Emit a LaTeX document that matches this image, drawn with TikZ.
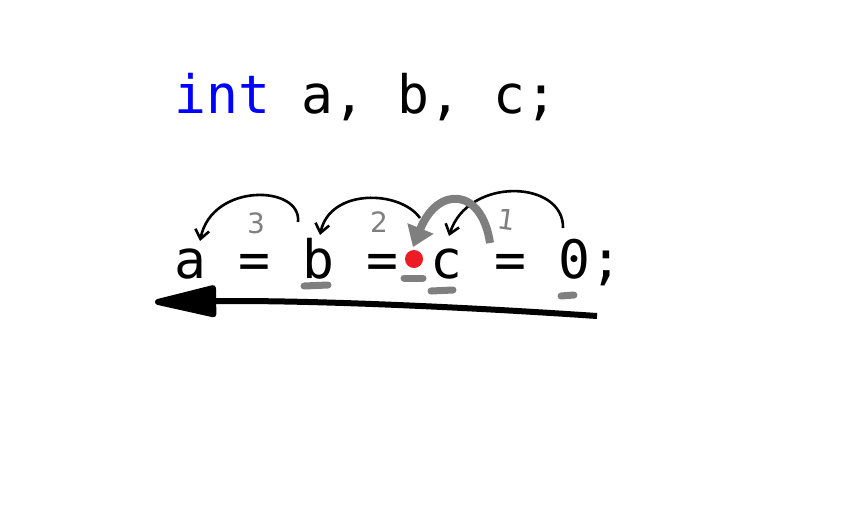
\documentclass[tikz,border=0pt]{standalone}
\usepackage{fontspec}
\setmonofont{DejaVu Sans Mono}
\newfontfamily\numfont{DejaVu Sans}
\usetikzlibrary{arrows.meta}
\definecolor{kwblue}{RGB}{0,0,255}
\definecolor{pgray}{RGB}{127,127,127}
\definecolor{pred}{RGB}{237,28,36}
\tikzset{
  code/.style={anchor=base west,inner sep=0pt,font=\ttfamily\fontsize{53}{60}\selectfont},
  num/.style={inner sep=0pt,text=pgray,font=\numfont\fontsize{28}{30}\selectfont},
  thinarc/.style={line width=2.6pt,-{Straight Barb[length=9pt,width=14pt,line width=2.6pt]}},
  grayarc/.style={line width=8pt,pgray,-{Triangle[length=20pt,width=27pt]}},
  bigarrow/.style={line width=6pt,-{Triangle[length=72pt,width=32pt,round]}},
  underdash/.style={line width=7pt,pgray,line cap=round}
}
\begin{document}
\begin{tikzpicture}[x=1pt,y=-1pt]
\useasboundingbox (0,0) rectangle (864,512);
\node[code] (decl) at (174,113) {\textcolor{kwblue}{int} a, b, c;};
% assignment line, one node per token (cell width 32)
\node[code] (ta)  at (174,278) {a};
\node[code] (te1) at (238,278) {=};
\node[code] (tb)  at (302,278) {b};
\node[code] (te2) at (366,278) {=};
\node[code] (tc)  at (430,278) {c};
\node[code] (te3) at (494,278) {=};
\node[code] (t0)  at (558,278) {0};
\node[code] (tsc) at (590,278) {;};
% step numbers
\node[num] (n3) at (256,223) {3};
\node[num] (n2) at (379,222) {2};
\node[num,rotate=-8] (n1) at (507,220) {1};
% thin black arcs
\coordinate (zeroTop) at (563,228);
\coordinate (cTop) at (449,236);
\coordinate (cLeft) at (420,218);
\coordinate (bTop) at (320,235);
\coordinate (bRight) at (298,222);
\coordinate (aTop) at (200,241);
\draw[thinarc] (zeroTop) .. controls (564,180) and (468,176) .. (cTop);
\draw[thinarc] (cLeft) .. controls (400,190) and (330,188) .. (bTop);
\draw[thinarc] (bRight) .. controls (302,185) and (212,182) .. (aTop);
% gray thick arrow
\coordinate (gStart) at (490,243);
\coordinate (gEnd) at (413,247);
\draw[grayarc] (gStart) .. controls (482,188) and (438,185) .. (gEnd);
% red dot
\fill[pred] (414,259) circle (9);
% gray underline dashes
\draw[underdash] (304,286) -- (328,285);
\draw[underdash] (404,278) -- (423,278);
\draw[underdash] (431,291) -- (453,290);
\draw[underdash] (561,296) -- (574,295);
% big black arrow
\coordinate (bigStart) at (597,316);
\coordinate (bigEnd) at (155,302);
\draw[bigarrow] (bigStart) .. controls (450,306) and (300,300) .. (bigEnd);
\end{tikzpicture}
\end{document}
